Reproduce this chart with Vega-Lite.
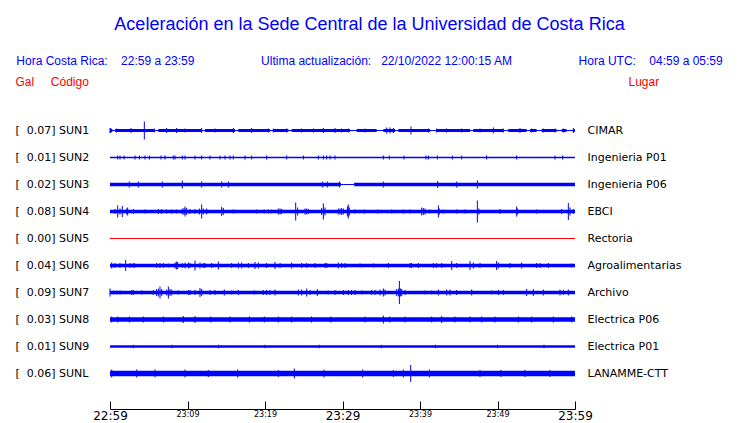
{
  "$schema": "https://vega.github.io/schema/vega-lite/v6.json",
  "width": 465,
  "height": 270,
  "autosize": {"type": "none"},
  "padding": {"left": 110, "top": 117, "right": 165, "bottom": 36},
  "background": "white",
  "title": {
    "text": "Aceleración en la Sede Central de la Universidad de Costa Rica",
    "subtitle": "Hora Costa Rica:\u00a0\u00a0\u00a0\u00a022:59 a 23:59\u00a0\u00a0\u00a0\u00a0\u00a0\u00a0\u00a0\u00a0\u00a0\u00a0\u00a0\u00a0\u00a0\u00a0\u00a0\u00a0\u00a0\u00a0\u00a0\u00a0Ultima actualización:\u00a0\u00a0\u00a022/10/2022 12:00:15 AM\u00a0\u00a0\u00a0\u00a0\u00a0\u00a0\u00a0\u00a0\u00a0\u00a0\u00a0\u00a0\u00a0\u00a0\u00a0\u00a0\u00a0\u00a0\u00a0\u00a0Hora UTC:\u00a0\u00a0\u00a0\u00a004:59 a 05:59",
    "anchor": "middle",
    "frame": "group",
    "dx": 27,
    "font": "Liberation Sans",
    "fontSize": 18,
    "fontWeight": "normal",
    "color": "#0000ff",
    "subtitleFont": "Liberation Sans",
    "subtitleFontSize": 12,
    "subtitleColor": "#0000ff",
    "subtitlePadding": 22,
    "offset": 8
  },
  "datasets": {
    "est": [
      {"c": "SUN1", "etiqueta": "[\u00a0\u00a00.07] SUN1", "lugar": "CIMAR"},
      {"c": "SUN2", "etiqueta": "[\u00a0\u00a00.01] SUN2", "lugar": "Ingenieria P01"},
      {"c": "SUN3", "etiqueta": "[\u00a0\u00a00.02] SUN3", "lugar": "Ingenieria P06"},
      {"c": "SUN4", "etiqueta": "[\u00a0\u00a00.08] SUN4", "lugar": "EBCI"},
      {"c": "SUN5", "etiqueta": "[\u00a0\u00a00.00] SUN5", "lugar": "Rectoria"},
      {"c": "SUN6", "etiqueta": "[\u00a0\u00a00.04] SUN6", "lugar": "Agroalimentarias"},
      {"c": "SUN7", "etiqueta": "[\u00a0\u00a00.09] SUN7", "lugar": "Archivo"},
      {"c": "SUN8", "etiqueta": "[\u00a0\u00a00.03] SUN8", "lugar": "Electrica P06"},
      {"c": "SUN9", "etiqueta": "[\u00a0\u00a00.01] SUN9", "lugar": "Electrica P01"},
      {"c": "SUNL", "etiqueta": "[\u00a0\u00a00.06] SUNL", "lugar": "LANAMME-CTT"}
    ],
    "bases": [
      {"c": "SUN1", "t0": 0, "t1": 60, "w": 1},
      {"c": "SUN1", "t0": 0, "t1": 0.3, "w": 3},
      {"c": "SUN1", "t0": 0.65, "t1": 5.72, "w": 3},
      {"c": "SUN1", "t0": 6.24, "t1": 11.83, "w": 3},
      {"c": "SUN1", "t0": 12.26, "t1": 16.13, "w": 3},
      {"c": "SUN1", "t0": 16.56, "t1": 20.64, "w": 3},
      {"c": "SUN1", "t0": 21.07, "t1": 23.01, "w": 3},
      {"c": "SUN1", "t0": 23.44, "t1": 30.97, "w": 3},
      {"c": "SUN1", "t0": 31.83, "t1": 34.41, "w": 3},
      {"c": "SUN1", "t0": 35.27, "t1": 36.78, "w": 3},
      {"c": "SUN1", "t0": 37.21, "t1": 41.29, "w": 3},
      {"c": "SUN1", "t0": 42.15, "t1": 46.45, "w": 3},
      {"c": "SUN1", "t0": 46.88, "t1": 50.75, "w": 3},
      {"c": "SUN1", "t0": 51.39, "t1": 53.76, "w": 3},
      {"c": "SUN1", "t0": 54.19, "t1": 55.05, "w": 3},
      {"c": "SUN1", "t0": 55.7, "t1": 57.63, "w": 3},
      {"c": "SUN1", "t0": 58.28, "t1": 58.92, "w": 3},
      {"c": "SUN1", "t0": 59.78, "t1": 60, "w": 3},
      {"c": "SUN2", "t0": 0, "t1": 60, "w": 1.3},
      {"c": "SUN3", "t0": 0, "t1": 29.8, "w": 3.5},
      {"c": "SUN3", "t0": 29.8, "t1": 31.5, "w": 1},
      {"c": "SUN3", "t0": 31.5, "t1": 60, "w": 3.5},
      {"c": "SUN4", "t0": 0, "t1": 60, "w": 3.5},
      {"c": "SUN5", "t0": 0, "t1": 60, "w": 1},
      {"c": "SUN6", "t0": 0, "t1": 60, "w": 3.5},
      {"c": "SUN7", "t0": 0, "t1": 60, "w": 3.5},
      {"c": "SUN8", "t0": 0, "t1": 60, "w": 4.7},
      {"c": "SUN9", "t0": 0, "t1": 60, "w": 2.5},
      {"c": "SUNL", "t0": 0, "t1": 60, "w": 5.7}
    ],
    "picos": [
      {"c": "SUN1", "t": 0.0, "a": 5}, {"c": "SUN1", "t": 0.1, "a": 5}, {"c": "SUN1", "t": 0.86, "a": 4}, {"c": "SUN1", "t": 2.71, "a": 5},
      {"c": "SUN1", "t": 4.43, "a": 18}, {"c": "SUN1", "t": 5.72, "a": 4}, {"c": "SUN1", "t": 7.31, "a": 5}, {"c": "SUN1", "t": 8.6, "a": 5},
      {"c": "SUN1", "t": 9.68, "a": 4}, {"c": "SUN1", "t": 11.83, "a": 5}, {"c": "SUN1", "t": 13.55, "a": 4}, {"c": "SUN1", "t": 15.91, "a": 5},
      {"c": "SUN1", "t": 18.28, "a": 5}, {"c": "SUN1", "t": 20.43, "a": 4}, {"c": "SUN1", "t": 21.07, "a": 4}, {"c": "SUN1", "t": 22.8, "a": 4},
      {"c": "SUN1", "t": 24.73, "a": 4}, {"c": "SUN1", "t": 26.24, "a": 4}, {"c": "SUN1", "t": 27.53, "a": 5}, {"c": "SUN1", "t": 29.03, "a": 5},
      {"c": "SUN1", "t": 29.89, "a": 4}, {"c": "SUN1", "t": 30.75, "a": 4}, {"c": "SUN1", "t": 32.91, "a": 4}, {"c": "SUN1", "t": 35.7, "a": 6},
      {"c": "SUN1", "t": 36.13, "a": 6}, {"c": "SUN1", "t": 36.56, "a": 5}, {"c": "SUN1", "t": 38.84, "a": 8}, {"c": "SUN1", "t": 41.08, "a": 4},
      {"c": "SUN1", "t": 42.15, "a": 4}, {"c": "SUN1", "t": 43.44, "a": 4}, {"c": "SUN1", "t": 45.38, "a": 4}, {"c": "SUN1", "t": 47.74, "a": 4},
      {"c": "SUN1", "t": 49.46, "a": 6}, {"c": "SUN1", "t": 50.75, "a": 4}, {"c": "SUN1", "t": 52.9, "a": 5}, {"c": "SUN1", "t": 54.41, "a": 4},
      {"c": "SUN1", "t": 55.91, "a": 4}, {"c": "SUN1", "t": 57.42, "a": 4}, {"c": "SUN1", "t": 58.49, "a": 4}, {"c": "SUN1", "t": 59.78, "a": 5},

      {"c": "SUN2", "t": 0.99, "a": 4}, {"c": "SUN2", "t": 1.29, "a": 4}, {"c": "SUN2", "t": 1.81, "a": 4}, {"c": "SUN2", "t": 3.23, "a": 4},
      {"c": "SUN2", "t": 3.79, "a": 4}, {"c": "SUN2", "t": 4.52, "a": 4}, {"c": "SUN2", "t": 5.08, "a": 4}, {"c": "SUN2", "t": 6.58, "a": 4},
      {"c": "SUN2", "t": 7.1, "a": 4}, {"c": "SUN2", "t": 8.17, "a": 4}, {"c": "SUN2", "t": 8.39, "a": 4}, {"c": "SUN2", "t": 9.33, "a": 4},
      {"c": "SUN2", "t": 9.68, "a": 4}, {"c": "SUN2", "t": 10.97, "a": 4}, {"c": "SUN2", "t": 11.83, "a": 4}, {"c": "SUN2", "t": 12.9, "a": 4},
      {"c": "SUN2", "t": 14.19, "a": 4}, {"c": "SUN2", "t": 14.84, "a": 4}, {"c": "SUN2", "t": 15.48, "a": 4}, {"c": "SUN2", "t": 15.91, "a": 4},
      {"c": "SUN2", "t": 17.42, "a": 4}, {"c": "SUN2", "t": 18.28, "a": 4}, {"c": "SUN2", "t": 20.21, "a": 4}, {"c": "SUN2", "t": 22.8, "a": 4},
      {"c": "SUN2", "t": 24.95, "a": 4}, {"c": "SUN2", "t": 26.88, "a": 4}, {"c": "SUN2", "t": 27.53, "a": 4}, {"c": "SUN2", "t": 27.96, "a": 4},
      {"c": "SUN2", "t": 28.39, "a": 4}, {"c": "SUN2", "t": 29.03, "a": 4}, {"c": "SUN2", "t": 35.27, "a": 4}, {"c": "SUN2", "t": 36.04, "a": 4},
      {"c": "SUN2", "t": 37.94, "a": 4}, {"c": "SUN2", "t": 40.77, "a": 4}, {"c": "SUN2", "t": 41.08, "a": 4}, {"c": "SUN2", "t": 42.24, "a": 4},
      {"c": "SUN2", "t": 44.17, "a": 4}, {"c": "SUN2", "t": 45.38, "a": 4}, {"c": "SUN2", "t": 48.6, "a": 4}, {"c": "SUN2", "t": 52.47, "a": 4},
      {"c": "SUN2", "t": 57.42, "a": 4}, {"c": "SUN2", "t": 58.4, "a": 4},

      {"c": "SUN3", "t": 2.49, "a": 6}, {"c": "SUN3", "t": 3.66, "a": 6}, {"c": "SUN3", "t": 6.75, "a": 6}, {"c": "SUN3", "t": 9.33, "a": 8},
      {"c": "SUN3", "t": 11.83, "a": 6}, {"c": "SUN3", "t": 14.41, "a": 6}, {"c": "SUN3", "t": 15.27, "a": 6}, {"c": "SUN3", "t": 27.4, "a": 6},
      {"c": "SUN3", "t": 28.04, "a": 6}, {"c": "SUN3", "t": 29.6, "a": 6}, {"c": "SUN3", "t": 35.27, "a": 6}, {"c": "SUN3", "t": 42.28, "a": 7},
      {"c": "SUN3", "t": 44.73, "a": 6}, {"c": "SUN3", "t": 47.4, "a": 8},

      {"c": "SUN4", "t": 0.65, "a": 5}, {"c": "SUN4", "t": 0.99, "a": 12}, {"c": "SUN4", "t": 1.29, "a": 6}, {"c": "SUN4", "t": 1.59, "a": 11},
      {"c": "SUN4", "t": 2.15, "a": 6}, {"c": "SUN4", "t": 2.28, "a": 8}, {"c": "SUN4", "t": 3.01, "a": 5}, {"c": "SUN4", "t": 4.52, "a": 4},
      {"c": "SUN4", "t": 6.24, "a": 5}, {"c": "SUN4", "t": 6.67, "a": 5}, {"c": "SUN4", "t": 7.31, "a": 4}, {"c": "SUN4", "t": 7.96, "a": 4},
      {"c": "SUN4", "t": 8.6, "a": 4}, {"c": "SUN4", "t": 9.33, "a": 6}, {"c": "SUN4", "t": 9.55, "a": 7}, {"c": "SUN4", "t": 9.68, "a": 10},
      {"c": "SUN4", "t": 9.89, "a": 7}, {"c": "SUN4", "t": 10.32, "a": 5}, {"c": "SUN4", "t": 10.97, "a": 5}, {"c": "SUN4", "t": 11.53, "a": 6},
      {"c": "SUN4", "t": 11.83, "a": 14}, {"c": "SUN4", "t": 12.04, "a": 6}, {"c": "SUN4", "t": 12.47, "a": 6}, {"c": "SUN4", "t": 14.41, "a": 9},
      {"c": "SUN4", "t": 14.62, "a": 7}, {"c": "SUN4", "t": 15.91, "a": 4}, {"c": "SUN4", "t": 18.92, "a": 4}, {"c": "SUN4", "t": 19.91, "a": 4},
      {"c": "SUN4", "t": 20.43, "a": 4}, {"c": "SUN4", "t": 20.77, "a": 4}, {"c": "SUN4", "t": 21.72, "a": 6}, {"c": "SUN4", "t": 21.94, "a": 6},
      {"c": "SUN4", "t": 22.15, "a": 5}, {"c": "SUN4", "t": 23.96, "a": 18}, {"c": "SUN4", "t": 24.21, "a": 8}, {"c": "SUN4", "t": 25.16, "a": 6},
      {"c": "SUN4", "t": 25.38, "a": 6}, {"c": "SUN4", "t": 25.59, "a": 5}, {"c": "SUN4", "t": 27.31, "a": 7}, {"c": "SUN4", "t": 27.53, "a": 16},
      {"c": "SUN4", "t": 27.74, "a": 8}, {"c": "SUN4", "t": 29.46, "a": 6}, {"c": "SUN4", "t": 29.68, "a": 6}, {"c": "SUN4", "t": 29.89, "a": 7},
      {"c": "SUN4", "t": 30.11, "a": 6}, {"c": "SUN4", "t": 30.63, "a": 10}, {"c": "SUN4", "t": 30.75, "a": 14}, {"c": "SUN4", "t": 30.88, "a": 8},
      {"c": "SUN4", "t": 31.61, "a": 4}, {"c": "SUN4", "t": 32.82, "a": 4}, {"c": "SUN4", "t": 34.54, "a": 4}, {"c": "SUN4", "t": 36.35, "a": 4},
      {"c": "SUN4", "t": 37.85, "a": 4}, {"c": "SUN4", "t": 38.71, "a": 4}, {"c": "SUN4", "t": 40.22, "a": 8}, {"c": "SUN4", "t": 40.43, "a": 7},
      {"c": "SUN4", "t": 40.65, "a": 6}, {"c": "SUN4", "t": 41.29, "a": 4}, {"c": "SUN4", "t": 42.37, "a": 12}, {"c": "SUN4", "t": 42.5, "a": 6},
      {"c": "SUN4", "t": 43.01, "a": 4}, {"c": "SUN4", "t": 44.73, "a": 4}, {"c": "SUN4", "t": 45.81, "a": 4}, {"c": "SUN4", "t": 47.4, "a": 22},
      {"c": "SUN4", "t": 47.6, "a": 6}, {"c": "SUN4", "t": 50.32, "a": 5}, {"c": "SUN4", "t": 52.47, "a": 10}, {"c": "SUN4", "t": 52.6, "a": 6},
      {"c": "SUN4", "t": 55.05, "a": 4}, {"c": "SUN4", "t": 58.28, "a": 5}, {"c": "SUN4", "t": 59.14, "a": 17}, {"c": "SUN4", "t": 59.35, "a": 8},
      {"c": "SUN4", "t": 59.78, "a": 5},

      {"c": "SUN6", "t": 0.22, "a": 6}, {"c": "SUN6", "t": 0.65, "a": 5}, {"c": "SUN6", "t": 1.29, "a": 5}, {"c": "SUN6", "t": 2.02, "a": 11},
      {"c": "SUN6", "t": 2.58, "a": 5}, {"c": "SUN6", "t": 3.01, "a": 5}, {"c": "SUN6", "t": 3.23, "a": 4}, {"c": "SUN6", "t": 6.02, "a": 5},
      {"c": "SUN6", "t": 6.45, "a": 5}, {"c": "SUN6", "t": 6.88, "a": 5}, {"c": "SUN6", "t": 7.53, "a": 4}, {"c": "SUN6", "t": 8.39, "a": 6},
      {"c": "SUN6", "t": 8.56, "a": 8}, {"c": "SUN6", "t": 8.73, "a": 7}, {"c": "SUN6", "t": 9.33, "a": 5}, {"c": "SUN6", "t": 9.68, "a": 6},
      {"c": "SUN6", "t": 10.11, "a": 6}, {"c": "SUN6", "t": 10.32, "a": 5}, {"c": "SUN6", "t": 10.97, "a": 10}, {"c": "SUN6", "t": 11.61, "a": 6},
      {"c": "SUN6", "t": 12.04, "a": 5}, {"c": "SUN6", "t": 12.26, "a": 5}, {"c": "SUN6", "t": 13.12, "a": 5}, {"c": "SUN6", "t": 13.98, "a": 8},
      {"c": "SUN6", "t": 15.7, "a": 5}, {"c": "SUN6", "t": 16.56, "a": 6}, {"c": "SUN6", "t": 16.99, "a": 6}, {"c": "SUN6", "t": 17.85, "a": 5},
      {"c": "SUN6", "t": 18.71, "a": 7}, {"c": "SUN6", "t": 19.14, "a": 6}, {"c": "SUN6", "t": 20.21, "a": 5}, {"c": "SUN6", "t": 21.29, "a": 7},
      {"c": "SUN6", "t": 21.94, "a": 5}, {"c": "SUN6", "t": 23.44, "a": 6}, {"c": "SUN6", "t": 24.73, "a": 5}, {"c": "SUN6", "t": 25.38, "a": 5},
      {"c": "SUN6", "t": 26.45, "a": 5}, {"c": "SUN6", "t": 27.74, "a": 5}, {"c": "SUN6", "t": 27.96, "a": 5}, {"c": "SUN6", "t": 29.46, "a": 6},
      {"c": "SUN6", "t": 29.89, "a": 5}, {"c": "SUN6", "t": 30.32, "a": 5}, {"c": "SUN6", "t": 32.26, "a": 4}, {"c": "SUN6", "t": 33.98, "a": 4},
      {"c": "SUN6", "t": 35.92, "a": 5}, {"c": "SUN6", "t": 38.71, "a": 5}, {"c": "SUN6", "t": 38.9, "a": 5}, {"c": "SUN6", "t": 39.79, "a": 5},
      {"c": "SUN6", "t": 41.72, "a": 5}, {"c": "SUN6", "t": 42.15, "a": 5}, {"c": "SUN6", "t": 42.8, "a": 5}, {"c": "SUN6", "t": 44.09, "a": 9},
      {"c": "SUN6", "t": 44.73, "a": 5}, {"c": "SUN6", "t": 46.45, "a": 9}, {"c": "SUN6", "t": 46.88, "a": 6}, {"c": "SUN6", "t": 47.74, "a": 5},
      {"c": "SUN6", "t": 49.89, "a": 9}, {"c": "SUN6", "t": 50.11, "a": 6}, {"c": "SUN6", "t": 51.61, "a": 5}, {"c": "SUN6", "t": 53.12, "a": 6},
      {"c": "SUN6", "t": 55.05, "a": 5}, {"c": "SUN6", "t": 55.48, "a": 5}, {"c": "SUN6", "t": 56.56, "a": 5}, {"c": "SUN6", "t": 59.57, "a": 4},

      {"c": "SUN7", "t": 0.0, "a": 8}, {"c": "SUN7", "t": 0.43, "a": 4}, {"c": "SUN7", "t": 0.86, "a": 4}, {"c": "SUN7", "t": 1.29, "a": 4},
      {"c": "SUN7", "t": 2.8, "a": 5}, {"c": "SUN7", "t": 3.01, "a": 5}, {"c": "SUN7", "t": 4.09, "a": 4}, {"c": "SUN7", "t": 5.59, "a": 5},
      {"c": "SUN7", "t": 6.02, "a": 7}, {"c": "SUN7", "t": 6.24, "a": 8}, {"c": "SUN7", "t": 6.45, "a": 12}, {"c": "SUN7", "t": 6.67, "a": 7},
      {"c": "SUN7", "t": 7.31, "a": 6}, {"c": "SUN7", "t": 7.53, "a": 12}, {"c": "SUN7", "t": 7.74, "a": 7}, {"c": "SUN7", "t": 7.96, "a": 6},
      {"c": "SUN7", "t": 8.82, "a": 4}, {"c": "SUN7", "t": 10.11, "a": 5}, {"c": "SUN7", "t": 10.32, "a": 5}, {"c": "SUN7", "t": 10.97, "a": 5},
      {"c": "SUN7", "t": 11.61, "a": 9}, {"c": "SUN7", "t": 11.83, "a": 7}, {"c": "SUN7", "t": 12.9, "a": 5}, {"c": "SUN7", "t": 13.55, "a": 5},
      {"c": "SUN7", "t": 14.75, "a": 6}, {"c": "SUN7", "t": 15.7, "a": 4}, {"c": "SUN7", "t": 16.56, "a": 5}, {"c": "SUN7", "t": 18.62, "a": 4},
      {"c": "SUN7", "t": 19.78, "a": 5}, {"c": "SUN7", "t": 20.21, "a": 5}, {"c": "SUN7", "t": 20.64, "a": 5}, {"c": "SUN7", "t": 21.29, "a": 6},
      {"c": "SUN7", "t": 24.3, "a": 6}, {"c": "SUN7", "t": 24.73, "a": 6}, {"c": "SUN7", "t": 25.38, "a": 8}, {"c": "SUN7", "t": 25.81, "a": 5},
      {"c": "SUN7", "t": 26.75, "a": 7}, {"c": "SUN7", "t": 28.17, "a": 4}, {"c": "SUN7", "t": 29.03, "a": 5}, {"c": "SUN7", "t": 30.11, "a": 5},
      {"c": "SUN7", "t": 30.75, "a": 5}, {"c": "SUN7", "t": 31.17, "a": 5}, {"c": "SUN7", "t": 31.61, "a": 5}, {"c": "SUN7", "t": 32.48, "a": 4},
      {"c": "SUN7", "t": 33.77, "a": 5}, {"c": "SUN7", "t": 34.2, "a": 5}, {"c": "SUN7", "t": 34.84, "a": 6}, {"c": "SUN7", "t": 35.27, "a": 8},
      {"c": "SUN7", "t": 35.49, "a": 6}, {"c": "SUN7", "t": 36.99, "a": 7}, {"c": "SUN7", "t": 37.21, "a": 8}, {"c": "SUN7", "t": 37.34, "a": 23},
      {"c": "SUN7", "t": 37.5, "a": 8}, {"c": "SUN7", "t": 37.64, "a": 7}, {"c": "SUN7", "t": 38.07, "a": 5}, {"c": "SUN7", "t": 40.65, "a": 4},
      {"c": "SUN7", "t": 41.51, "a": 4}, {"c": "SUN7", "t": 42.37, "a": 6}, {"c": "SUN7", "t": 43.44, "a": 6}, {"c": "SUN7", "t": 43.87, "a": 6},
      {"c": "SUN7", "t": 44.73, "a": 5}, {"c": "SUN7", "t": 46.67, "a": 6}, {"c": "SUN7", "t": 49.25, "a": 4}, {"c": "SUN7", "t": 50.11, "a": 5},
      {"c": "SUN7", "t": 50.75, "a": 5}, {"c": "SUN7", "t": 53.76, "a": 7}, {"c": "SUN7", "t": 54.62, "a": 7}, {"c": "SUN7", "t": 55.91, "a": 6},
      {"c": "SUN7", "t": 58.06, "a": 6}, {"c": "SUN7", "t": 58.49, "a": 5}, {"c": "SUN7", "t": 59.14, "a": 6},

      {"c": "SUN8", "t": 0.22, "a": 6}, {"c": "SUN8", "t": 1.0, "a": 6}, {"c": "SUN8", "t": 2.5, "a": 6}, {"c": "SUN8", "t": 4.3, "a": 6},
      {"c": "SUN8", "t": 6.88, "a": 6}, {"c": "SUN8", "t": 9.46, "a": 7}, {"c": "SUN8", "t": 10.97, "a": 7}, {"c": "SUN8", "t": 13.0, "a": 6},
      {"c": "SUN8", "t": 15.5, "a": 6}, {"c": "SUN8", "t": 18.0, "a": 6}, {"c": "SUN8", "t": 19.91, "a": 6}, {"c": "SUN8", "t": 21.72, "a": 6},
      {"c": "SUN8", "t": 23.44, "a": 6}, {"c": "SUN8", "t": 26.0, "a": 6}, {"c": "SUN8", "t": 28.5, "a": 6}, {"c": "SUN8", "t": 32.91, "a": 6},
      {"c": "SUN8", "t": 35.27, "a": 8}, {"c": "SUN8", "t": 36.1, "a": 6}, {"c": "SUN8", "t": 38.07, "a": 6}, {"c": "SUN8", "t": 41.51, "a": 6},
      {"c": "SUN8", "t": 42.8, "a": 7}, {"c": "SUN8", "t": 44.5, "a": 6}, {"c": "SUN8", "t": 46.45, "a": 6}, {"c": "SUN8", "t": 47.96, "a": 6},
      {"c": "SUN8", "t": 49.68, "a": 6}, {"c": "SUN8", "t": 52.69, "a": 6}, {"c": "SUN8", "t": 54.41, "a": 6}, {"c": "SUN8", "t": 57.2, "a": 6},
      {"c": "SUN8", "t": 59.57, "a": 6},

      {"c": "SUN9", "t": 3.0, "a": 3.5}, {"c": "SUN9", "t": 8.0, "a": 3.5}, {"c": "SUN9", "t": 14.0, "a": 3.5}, {"c": "SUN9", "t": 20.0, "a": 3.5},
      {"c": "SUN9", "t": 27.0, "a": 3.5}, {"c": "SUN9", "t": 35.0, "a": 3.5}, {"c": "SUN9", "t": 42.0, "a": 3.5}, {"c": "SUN9", "t": 50.0, "a": 3.5},
      {"c": "SUN9", "t": 56.0, "a": 3.5},

      {"c": "SUNL", "t": 0.22, "a": 8}, {"c": "SUNL", "t": 3.44, "a": 8}, {"c": "SUNL", "t": 5.81, "a": 8}, {"c": "SUNL", "t": 9.68, "a": 8},
      {"c": "SUNL", "t": 12.69, "a": 7}, {"c": "SUNL", "t": 16.48, "a": 8}, {"c": "SUNL", "t": 21.72, "a": 7}, {"c": "SUNL", "t": 23.79, "a": 10},
      {"c": "SUNL", "t": 27.61, "a": 8}, {"c": "SUNL", "t": 32.6, "a": 8}, {"c": "SUNL", "t": 36.56, "a": 7}, {"c": "SUNL", "t": 37.85, "a": 8},
      {"c": "SUNL", "t": 38.8, "a": 17}, {"c": "SUNL", "t": 41.2, "a": 8}, {"c": "SUNL", "t": 47.74, "a": 7}, {"c": "SUNL", "t": 50.45, "a": 7},
      {"c": "SUNL", "t": 53.55, "a": 7}, {"c": "SUNL", "t": 56.77, "a": 7}
    ]
  },
  "layer": [
    {
      "data": {"name": "bases"},
      "transform": [{"lookup": "c", "from": {"data": {"name": "est"}, "key": "c", "fields": ["lugar"]}}],
      "mark": {"type": "rule", "strokeCap": "butt", "opacity": 1},
      "encoding": {
        "x": {
          "field": "t0", "type": "quantitative",
          "scale": {"domain": [0, 60], "nice": false, "zero": false},
          "axis": {
            "orient": "bottom",
            "values": [0, 5, 10, 15, 20, 25, 30, 35, 40, 45, 50, 55, 60],
            "labelExpr": "datum.value % 10 === 0 ? ['22:59','23:09','23:19','23:29','23:39','23:49','23:59'][datum.value / 10] : ''",
            "labelFont": "DejaVu Sans",
            "labelFontSize": {"condition": {"test": "datum.value % 30 === 0", "value": 12}, "value": 8},
            "labelColor": "black",
            "labelBaseline": "top",
            "labelPadding": 9,
            "labelOverlap": false,
            "labelFlush": false,
            "labelBound": false,
            "tickSize": -8,
            "tickColor": "black",
            "tickWidth": 1,
            "domainColor": "black",
            "domainWidth": 1,
            "offset": 22,
            "grid": false,
            "title": null
          }
        },
        "x2": {"field": "t1"},
        "y": {
          "field": "lugar", "type": "nominal",
          "scale": {"type": "point", "padding": 0.5, "domain": ["CIMAR", "Ingenieria P01", "Ingenieria P06", "EBCI", "Rectoria", "Agroalimentarias", "Archivo", "Electrica P06", "Electrica P01", "LANAMME-CTT"]},
          "axis": {
            "orient": "right",
            "domain": false, "ticks": false, "grid": false,
            "labelFont": "DejaVu Sans", "labelFontSize": 11, "labelColor": "black",
            "labelPadding": 12, "labelAlign": "left", "labelBaseline": "middle",
            "title": "Lugar",
            "titleFont": "Liberation Sans", "titleFontSize": 12, "titleFontWeight": "normal", "titleColor": "#ff0000",
            "titleAngle": 0, "titleAlign": "left", "titleBaseline": "middle", "titleX": 53, "titleY": -36
          }
        },
        "strokeWidth": {"field": "w", "type": "quantitative", "scale": {"type": "linear", "domain": [0, 10], "range": [0, 10]}, "legend": null},
        "color": {
          "field": "c", "type": "nominal",
          "scale": {"domain": ["SUN1", "SUN2", "SUN3", "SUN4", "SUN5", "SUN6", "SUN7", "SUN8", "SUN9", "SUNL"],
                    "range": ["#0000ff", "#0000ff", "#0000ff", "#0000ff", "#ff0000", "#0000ff", "#0000ff", "#0000ff", "#0000ff", "#0000ff"]},
          "legend": null
        }
      }
    },
    {
      "data": {"name": "picos"},
      "transform": [{"lookup": "c", "from": {"data": {"name": "est"}, "key": "c", "fields": ["etiqueta"]}}],
      "mark": {"type": "tick", "thickness": 1, "opacity": 1},
      "encoding": {
        "x": {"field": "t", "type": "quantitative"},
        "y": {
          "field": "etiqueta", "type": "nominal",
          "scale": {"type": "point", "padding": 0.5, "domain": ["[\u00a0\u00a00.07] SUN1", "[\u00a0\u00a00.01] SUN2", "[\u00a0\u00a00.02] SUN3", "[\u00a0\u00a00.08] SUN4", "[\u00a0\u00a00.00] SUN5", "[\u00a0\u00a00.04] SUN6", "[\u00a0\u00a00.09] SUN7", "[\u00a0\u00a00.03] SUN8", "[\u00a0\u00a00.01] SUN9", "[\u00a0\u00a00.06] SUNL"]},
          "axis": {
            "orient": "left",
            "domain": false, "ticks": false, "grid": false,
            "labelFont": "DejaVu Sans", "labelFontSize": 11, "labelColor": "black",
            "labelPadding": 95, "labelAlign": "left", "labelBaseline": "middle",
            "title": "Gal\u00a0\u00a0\u00a0\u00a0\u00a0Código",
            "titleFont": "Liberation Sans", "titleFontSize": 12, "titleFontWeight": "normal", "titleColor": "#ff0000",
            "titleAngle": 0, "titleAlign": "left", "titleBaseline": "middle", "titleX": -95, "titleY": -36
          }
        },
        "size": {"field": "a", "type": "quantitative", "scale": {"type": "linear", "domain": [0, 25], "range": [0, 25]}, "legend": null},
        "color": {"field": "c", "type": "nominal", "legend": null}
      }
    }
  ],
  "resolve": {"scale": {"y": "independent"}, "axis": {"y": "independent"}},
  "config": {"view": {"stroke": null}, "font": "DejaVu Sans"}
}
